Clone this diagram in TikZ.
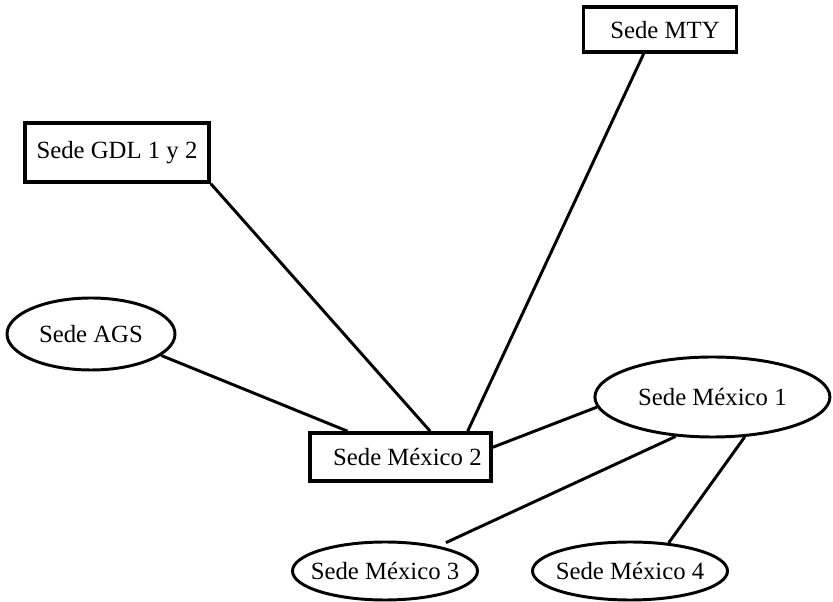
\documentclass[tikz,border=0pt]{standalone}
\usepackage{fontspec}
\setmainfont{Liberation Serif}
\usetikzlibrary{shapes.geometric}

\begin{document}
\begin{tikzpicture}[
  every node/.style={font=\fontsize{17.6}{20}\selectfont},
  caja/.style={draw,rectangle,line width=2.6pt,inner sep=0pt},
  ovalo/.style={draw,ellipse,line width=2.1pt,inner sep=0pt},
  enlace/.style={line width=2.1pt}]
  \useasboundingbox (0,0) rectangle (20.825,15.05);
  % sedes
  \node[caja,minimum width=4.6cm,minimum height=1.475cm] (gdl) at (2.925,11.24) {Sede GDL 1 y 2};
  \node[caja,minimum width=3.825cm,minimum height=1.125cm] (mty) at (16.5,14.31) {\hspace{0.25cm}Sede MTY};
  \node[caja,minimum width=4.525cm,minimum height=1.2cm] (mx2) at (10.01,3.625) {\hspace{0.35cm}Sede México 2};
  \node[ovalo,minimum width=4.2cm,minimum height=1.8cm] (ags) at (2.275,6.7) {\makebox[0pt]{Sede AGS}};
  \node[ovalo,minimum width=5.875cm,minimum height=2cm] (mx1) at (17.81,5.125) {\makebox[0pt]{Sede México 1}};
  \node[ovalo,minimum width=4.625cm,minimum height=1.45cm] (mx3) at (9.625,0.775) {\makebox[0pt]{Sede México 3}};
  \node[ovalo,minimum width=4.875cm,minimum height=1.45cm] (mx4) at (15.75,0.775) {\makebox[0pt]{Sede México 4}};
  % enlaces
  \draw[enlace] (ags.343) -- (mx2.154);
  \draw[enlace] (gdl.south east) -- (mx2.41);
  \draw[enlace] (mty.236) -- (mx2.21);
  \draw[enlace] (mx2.6) -- (mx1.185);
  \draw[enlace,shorten >=0.2cm] (mx1.227) -- (mx3.25);
  \draw[enlace] (mx1.309) -- (mx4.36);
\end{tikzpicture}
\end{document}
